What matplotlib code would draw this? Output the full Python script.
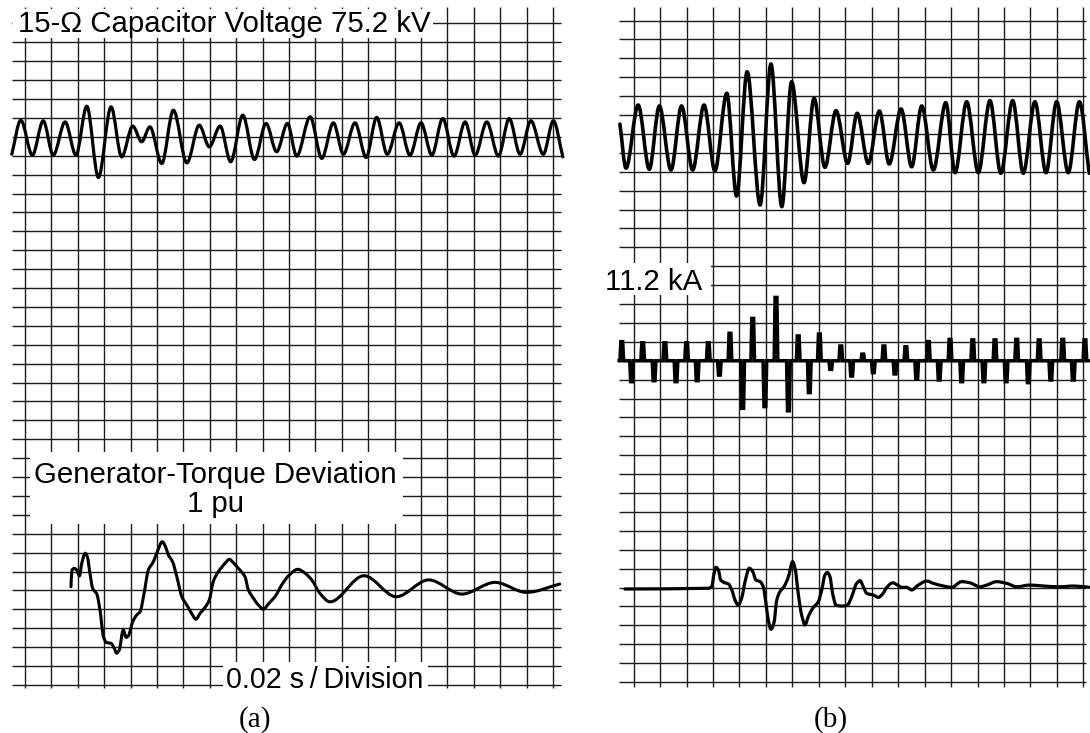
import numpy as np
import matplotlib
matplotlib.use("Agg")
import matplotlib.pyplot as plt
from matplotlib.path import Path
from matplotlib.patches import PathPatch, Rectangle

# ---------------- data (grid divisions; x = time in divisions, 0.02 s/div) ----------------
# (a) 15-ohm capacitor voltage, extrema (y relative to trace centre line)
va_x = [-0.50, -0.16, 0.28, 0.69, 1.07, 1.52, 1.93, 2.34, 2.78, 3.26, 3.66, 4.08, 4.42, 4.73,
        5.18, 5.62, 6.13, 6.60, 6.98, 7.39, 7.79, 8.25, 8.69, 9.13, 9.53, 9.94, 10.29, 10.80,
        11.24, 11.68, 12.06, 12.50, 12.92, 13.32, 13.72, 14.17, 14.58, 15.00, 15.41, 15.82,
        16.25, 16.67, 17.05, 17.49, 17.93, 18.34, 18.75, 19.16, 19.63, 20.01, 20.37]
va_y = [-0.92, 0.88, -0.97, 0.85, -0.97, 0.79, -0.97, 1.62, -2.15, 1.59, -1.06, 0.57, -0.26,
        0.53, -1.41, 1.41, -1.38, 0.62, -0.53, 0.57, -1.32, 1.15, -1.20, 0.71, -0.79, 0.71,
        -1.02, 1.06, -1.14, 0.74, -0.92, 0.74, -1.09, 1.03, -0.92, 0.74, -0.97, 0.74, -0.97,
        0.97, -1.02, 0.79, -0.97, 0.79, -1.02, 0.97, -0.92, 0.85, -0.92, 0.85, -1.06]

# (a) generator-torque deviation
ta_x = [1.74, 1.78, 1.86, 1.96, 2.06, 2.15, 2.28, 2.36, 2.46, 2.56, 2.72, 2.84, 2.97, 3.09,
        3.25, 3.38, 3.47, 3.57, 3.72, 3.83, 3.91, 4.08, 4.23, 4.36, 4.51, 4.67, 4.86, 5.01,
        5.20, 5.33, 5.43, 5.59, 5.75, 5.94, 6.15, 6.31, 6.47, 6.63, 6.82, 6.98, 7.13, 7.32,
        7.58, 7.74, 7.89, 8.08, 8.33, 8.46, 8.65, 8.84, 9.03, 9.22, 9.51, 9.72, 10.01, 10.33,
        10.61, 10.86, 11.17, 11.55, 12.84, 14.06, 15.29, 16.55, 17.80, 18.99, 20.25]
ta_y = [5.20, 6.08, 6.17, 6.08, 5.77, 6.44, 6.97, 6.79, 5.91, 5.12, 4.81, 3.97, 2.56, 2.24,
        2.21, 1.94, 1.68, 1.85, 2.91, 2.52, 2.59, 3.35, 3.70, 3.88, 4.85, 6.08, 6.52, 7.05,
        7.58, 7.29, 6.88, 6.52, 5.73, 4.67, 4.18, 3.79, 3.48, 3.79, 4.11, 4.50, 5.47, 5.99,
        6.44, 6.65, 6.47, 6.17, 5.73, 5.03, 4.59, 4.23, 4.01, 4.29, 4.76, 5.29, 5.82, 6.12,
        5.91, 5.56, 4.85, 4.40, 5.78, 4.67, 5.56, 4.81, 5.43, 4.90, 5.34]

# (b) capacitor voltage
vb_x = [-0.52, -0.29, 0.17, 0.59, 0.97, 1.41, 1.81, 2.23, 2.66, 3.07, 3.52, 3.89, 4.29, 4.78,
        5.19, 5.60, 5.97, 6.44, 6.82, 7.23, 7.65, 8.09, 8.45, 8.87, 9.29, 9.66, 10.11, 10.51,
        10.89, 11.33, 11.80, 12.15, 12.59, 13.03, 13.47, 13.88, 14.33, 14.73, 15.17, 15.59,
        15.99, 16.43, 16.85, 17.22]
vb_y = [29.52, 27.19, 30.53, 27.13, 30.48, 27.09, 30.48, 27.09, 30.53, 27.05, 31.15, 25.71,
        32.29, 25.24, 32.70, 25.15, 31.76, 26.42, 30.88, 27.23, 30.23, 27.44, 30.09, 27.44,
        30.21, 27.41, 30.32, 27.26, 30.48, 27.09, 30.65, 26.95, 30.70, 26.95, 30.76, 26.92,
        30.76, 26.92, 30.70, 26.95, 30.70, 26.95, 30.70, 26.92]

# (b) current (11.2 kA): spike positions and tips
ib_base = 17.0
ib_pos_x = [-0.45, 0.34, 1.18, 2.00, 2.82, 3.64, 4.50, 5.38, 6.22, 7.02, 7.83, 8.66, 9.46,
            10.29, 11.14, 11.96, 12.82, 13.66, 14.48, 15.33, 16.22, 17.06]
ib_pos_y = [18.01, 17.95, 17.95, 17.95, 17.95, 18.45, 19.24, 20.35, 18.31, 18.41, 17.78,
            17.35, 17.78, 17.74, 18.01, 18.13, 18.10, 18.10, 18.13, 18.10, 18.13, 18.10]
ib_neg_x = [-0.08, 0.77, 1.60, 2.40, 3.24, 4.12, 4.96, 5.85, 6.64, 7.45, 8.24, 9.06, 9.88,
            10.70, 11.55, 12.40, 13.24, 14.08, 14.92, 15.77, 16.62]
ib_neg_y = [15.89, 15.94, 15.89, 15.94, 16.24, 14.48, 14.57, 14.35, 15.31, 16.54, 16.19,
            16.37, 16.30, 16.02, 15.98, 15.89, 15.89, 15.89, 15.84, 15.98, 15.98]

# (b) generator-torque deviation
tb_x = [-0.33, 2.82, 2.95, 3.04, 3.11, 3.20, 3.29, 3.45, 3.58, 3.71, 3.83, 3.95, 4.08, 4.21,
        4.37, 4.50, 4.62, 4.78, 4.90, 5.00, 5.09, 5.19, 5.30, 5.41, 5.53, 5.68, 5.85, 6.01,
        6.11, 6.22, 6.35, 6.48, 6.60, 6.77, 6.98, 7.11, 7.23, 7.32, 7.42, 7.52, 7.65, 7.86,
        8.08, 8.24, 8.43, 8.56, 8.68, 8.81, 9.06, 9.25, 9.41, 9.59, 9.79, 9.97, 10.13, 10.32,
        10.51, 10.76, 11.08, 11.33, 11.71, 12.02, 12.40, 12.71, 13.09, 13.35, 13.72, 14.10,
        14.48, 14.98, 15.49, 16.12, 16.62, 17.23]
tb_y = [4.92, 4.96, 5.04, 5.75, 6.07, 5.93, 5.40, 5.25, 5.19, 4.87, 4.34, 4.07, 4.43, 5.31,
        6.02, 5.84, 5.40, 5.31, 5.04, 4.16, 3.28, 2.79, 3.11, 4.34, 4.78, 5.04, 5.57, 6.37,
        5.93, 4.69, 3.54, 3.02, 3.46, 3.90, 4.25, 4.87, 5.66, 5.80, 5.57, 4.69, 4.07, 4.02,
        4.07, 4.51, 5.22, 5.36, 5.04, 4.69, 4.60, 4.48, 4.66, 5.04, 5.25, 5.13, 5.01, 5.01,
        4.87, 5.13, 5.34, 5.22, 5.08, 5.01, 5.31, 5.25, 5.04, 5.13, 5.31, 5.22, 5.04, 5.13,
        5.08, 5.04, 5.08, 5.01]

title_a = "15-\u03a9 Capacitor Voltage 75.2 kV"
torque_label = ["Generator-Torque Deviation", "1 pu"]
time_label = "0.02 s\u2009/\u2009Division"
current_label = "11.2 kA"

# ---------------- helpers ----------------
def smooth_path(x, y):
    """Monotone cubic (PCHIP-type) Bezier path through the read points."""
    x = np.asarray(x, float); y = np.asarray(y, float)
    h = np.diff(x); d = np.diff(y) / h
    n = len(x)
    m = np.zeros(n)
    for i in range(1, n - 1):
        if d[i - 1] * d[i] > 0:
            w1 = 2 * h[i] + h[i - 1]
            w2 = h[i] + 2 * h[i - 1]
            m[i] = (w1 + w2) / (w1 / d[i - 1] + w2 / d[i])
    m[0] = d[0]; m[-1] = d[-1]
    verts = [(x[0], y[0])]; codes = [Path.MOVETO]
    for i in range(n - 1):
        verts += [(x[i] + h[i] / 3, y[i] + m[i] * h[i] / 3),
                  (x[i + 1] - h[i] / 3, y[i + 1] - m[i + 1] * h[i] / 3),
                  (x[i + 1], y[i + 1])]
        codes += [Path.CURVE4] * 3
    return Path(verts, codes)

def trace(ax, x, y, lw):
    ax.add_patch(PathPatch(smooth_path(x, y), facecolor="none", edgecolor="black",
                           lw=lw, capstyle="round", joinstyle="round", zorder=4))

GRID = "#1c1c1c"
FONT = ["Liberation Sans", "DejaVu Sans"]
FS = 21.2

fig = plt.figure(figsize=(10.9, 7.33), dpi=100)

# ---------------- panel (a) ----------------
ax = fig.add_axes([0, 0, 580 / 1090, 1])
ax.set_xlim(-0.947, 21.02)
ax.set_ylim(-2.54, 36.24)
ax.axis("off")
ax.vlines(np.arange(21), -0.16, 35.87, colors=GRID, lw=1.0, zorder=1)
ax.hlines(np.arange(36), -0.49, 20.30, colors=GRID, lw=1.0, zorder=1)

ax.add_patch(Rectangle((-0.45, 34.23), 15.9, 1.54, fc="white", ec="none", zorder=2))
ax.text(-0.25, 34.53, title_a, ha="left", va="baseline", fontsize=FS, family=FONT, zorder=3)

ax.add_patch(Rectangle((0.19, 8.52), 14.13, 3.81, fc="white", ec="none", zorder=2))
ax.text(7.22, 10.71, torque_label[0], ha="center", va="baseline", fontsize=FS, family=FONT, zorder=3)
ax.text(7.22, 9.17, torque_label[1], ha="center", va="baseline", fontsize=FS, family=FONT, zorder=3)

ax.add_patch(Rectangle((7.5, -0.53), 7.75, 1.75, fc="white", ec="none", zorder=2))
ax.text(7.61, -0.14, time_label, ha="left", va="baseline", fontsize=20.6, family=FONT, zorder=3)

ax.text(8.71, -1.84, "(a)", ha="center", va="center", fontsize=21, family="Liberation Serif")

trace(ax, va_x, np.asarray(va_y) + 29.0, 2.3)
trace(ax, ta_x, ta_y, 2.2)

# ---------------- panel (b) ----------------
bx = fig.add_axes([590 / 1090, 0, 500 / 1090, 1])
bx.set_xlim(-1.652, 17.252)
bx.set_ylim(-2.698, 36.085)
bx.axis("off")
bx.vlines(np.arange(18), -0.26, 35.71, colors=GRID, lw=1.0, zorder=1)
bx.hlines(np.arange(36), -0.556, 17.10, colors=GRID, lw=1.0, zorder=1)

bx.add_patch(Rectangle((-1.7, 20.48), 4.62, 1.69, fc="white", ec="none", zorder=2))
bx.text(-1.085, 20.74, current_label, ha="left", va="baseline", fontsize=FS, family=FONT, zorder=3)
bx.text(7.46, -1.96, "(b)", ha="center", va="center", fontsize=21, family="Liberation Serif")

trace(bx, vb_x, vb_y, 2.6)
trace(bx, tb_x, tb_y, 2.3)

# current: baseline with vertical spikes
events = sorted([(x, y) for x, y in zip(ib_pos_x, ib_pos_y)] +
                [(x, y) for x, y in zip(ib_neg_x, ib_neg_y)])
cx = [-0.55]; cy = [ib_base]
w = 0.07
for x, y in events:
    cx += [x - w, x - w / 2, x + w / 2, x + w]
    cy += [ib_base, y, y, ib_base]
cx.append(17.25); cy.append(ib_base)
bx.plot(cx, cy, color="black", lw=2.5, solid_joinstyle="miter", zorder=4)

fig.savefig("out.png", dpi=100)
